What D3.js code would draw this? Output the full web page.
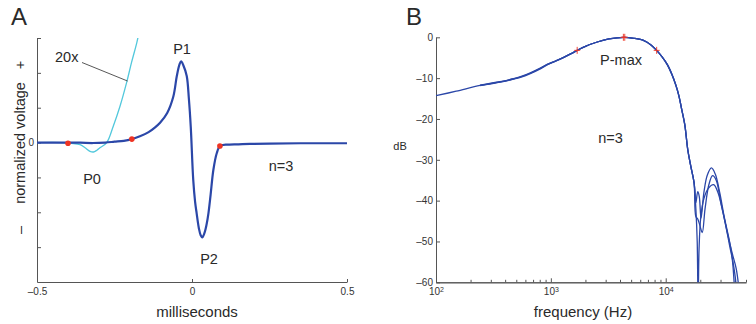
<!DOCTYPE html>
<html>
<head>
<meta charset="utf-8">
<script src="https://cdnjs.cloudflare.com/ajax/libs/d3/7.8.5/d3.min.js"></script>
<style>
  body { margin: 0; background: #fff; }
  svg text { font-family: "Helvetica Neue", Helvetica, "Liberation Sans", Arial, sans-serif; fill: #2a2a2a; }
</style>
</head>
<body>
<div id="chart"></div>
<script>
// ---- panel A: averaged click waveform (ms vs normalized voltage)
var waveTime = [-0.5, -0.45, -0.40, -0.36, -0.32, -0.28, -0.25, -0.22, -0.194, -0.168, -0.14, -0.12, -0.103, -0.08,
  -0.06, -0.049, -0.040, -0.035, -0.028, -0.017, -0.010, -0.004, 0.004, 0.010, 0.015, 0.022, 0.028, 0.033, 0.040,
  0.047, 0.053, 0.060, 0.069, 0.080, 0.090, 0.100, 0.112, 0.15, 0.187, 0.25, 0.35, 0.5];
var waveVolt = [0, 0, -0.002, -0.004, -0.013, 0, 0.025, 0.05, 0.1, 0.18, 0.30, 0.43, 0.57, 0.85,
  1.33, 1.91, 2.25, 2.33, 2.22, 1.91, 1.25, 0.45, -1.07, -1.7, -2.03, -2.45, -2.66, -2.72, -2.6,
  -2.35, -2.03, -1.5, -0.78, -0.3, -0.1, -0.07, -0.06, -0.05, -0.04, -0.03, -0.02, -0.02];
// 20x magnified trace, in plotted units
var zoomTime = [-0.5, -0.42, -0.39, -0.361, -0.345, -0.329, -0.318, -0.307, -0.297, -0.275, -0.254, -0.232, -0.211, -0.195, -0.178, -0.165];
var zoomVolt = [0, 0, -0.02, -0.06, -0.15, -0.25, -0.27, -0.22, -0.15, 0, 0.47, 1.05, 1.72, 2.30, 2.87, 3.4];
var dotTime = [-0.4, -0.194, 0.09];
var dotVolt = [-0.02, 0.1, -0.1];
var timeTicks = [-0.5, 0, 0.5];
var voltTicks = [-3, -2, -1, 0, 1, 2, 3];

// ---- panel B: spectra (Hz vs dB), n=3
var lowFreq = [242, 350, 473, 560, 662, 800, 927, 1100, 1295, 1500, 1695, 2000, 2535, 3200, 4330, 5300, 6460, 7400,
  8340, 9300, 10350, 11300, 12220, 13000, 13700, 14660, 15560, 16520, 17660];
var freq1 = [100, 150].concat(lowFreq, [18300, 19000, 19600, 20300, 21500, 23000, 25000, 27000, 29500, 32300, 35700, 37500, 38500, 39500]);
var db1 = [-14.3, -13.2, -11.8, -11.0, -10.2, -9.6, -8.8, -7.7, -6.7, -5.8, -4.9, -4.0, -3.2, -2.2, -1.15, -0.4, 0, -0.25, -0.8, -1.8,
  -3.2, -4.8, -6.7, -9.0, -11.6, -14.2, -17.3, -21.4, -27.5, -31.5, -35.6,
  -40.5, -37.8, -39, -44.3, -38, -33.8, -32, -33.5, -38, -43.9, -49.6, -53, -56, -60.5];
var freq2 = lowFreq.concat([18300, 19000, 19800, 20800, 22000, 23800, 25600, 27500, 30000, 33000, 36000, 38500, 40000, 41000]);
var db2 = [-11.7, -10.95, -10.15, -9.5, -8.7, -7.6, -6.65, -5.8, -4.9, -4.0, -3.2, -2.2, -1.15, -0.4, 0, -0.25, -0.8, -1.8,
  -3.2, -4.8, -6.8, -9.1, -11.7, -14.3, -17.4, -21.5, -27.6, -31.6, -35.7,
  -43.9, -44.5, -46, -47.8, -42, -36, -33.9, -35, -40, -45.5, -51, -55, -58, -60.5];
var freq3 = lowFreq.concat([18300, 18800, 19150, 19500, 20200, 21500, 23500, 26100, 28500, 31000, 34500, 38000, 41000, 43000]);
var db3 = [-11.85, -11.05, -10.25, -9.7, -8.9, -7.8, -6.75, -5.85, -4.9, -4.0, -3.2, -2.2, -1.15, -0.4, 0, -0.25, -0.8, -1.8,
  -3.2, -4.8, -6.7, -9.0, -11.6, -14.2, -17.3, -21.4, -27.5, -31.5, -35.6,
  -42, -50, -66, -52, -44, -39.5, -37, -36.1, -38, -42, -48, -53, -56.5, -60.5];
var markFreq = [1695, 4280, 4400, 8340];
var markDb = [-3.2, 0, 0, -3.2];
var dbTicks = [0, -10, -20, -30, -40, -50, -60];
var decadeTicks = [100, 1000, 10000];

var blue = "#2b47a8", cyan = "#52c8dc", red = "#ee3424", axisCol = "#555";

var svg = d3.select("#chart").append("svg")
  .attr("width", 756).attr("height", 324);

var defs = svg.append("defs");

function styleAxis(g) {
  g.selectAll("path, line").attr("stroke", axisCol).attr("stroke-width", 1);
  g.selectAll("text").attr("font-size", 10).style("fill", "#333")
    .attr("font-family", null);
}

// ================= panel A =================
var xA = d3.scaleLinear().domain([-0.5, 0.5]).range([37, 347]);
var yA = d3.scaleLinear().domain([-4, 3]).range([282, 38]);

defs.append("clipPath").attr("id", "clipA").append("rect")
  .attr("x", 37).attr("y", 38).attr("width", 310).attr("height", 244);

svg.append("g")
  .attr("transform", "translate(37,0)")
  .call(d3.axisLeft(yA).tickValues(voltTicks).tickSize(-4).tickSizeOuter(0).tickPadding(3)
    .tickFormat(function(d) { return d === 0 ? "0" : ""; }))
  .call(styleAxis);

svg.append("g")
  .attr("transform", "translate(0,282)")
  .call(d3.axisBottom(xA).tickValues(timeTicks).tickSize(-3).tickSizeOuter(0).tickPadding(6)
    .tickFormat(function(d) { return d === 0 ? "0" : (d < 0 ? "\u2013" + Math.abs(d) : String(d)); }))
  .call(styleAxis);

var lineA = d3.line()
  .x(function(d) { return xA(d[0]); })
  .y(function(d) { return yA(d[1]); })
  .curve(d3.curveCatmullRom.alpha(0.5));

svg.append("path")
  .datum(d3.zip(zoomTime, zoomVolt))
  .attr("clip-path", "url(#clipA)")
  .attr("d", lineA)
  .attr("fill", "none").attr("stroke", cyan).attr("stroke-width", 1.3);

svg.append("path")
  .datum(d3.zip(waveTime, waveVolt))
  .attr("d", lineA)
  .attr("fill", "none").attr("stroke", blue).attr("stroke-width", 2.2);

svg.append("g").selectAll("circle")
  .data(d3.zip(dotTime, dotVolt))
  .enter().append("circle")
    .attr("cx", function(d) { return xA(d[0]); })
    .attr("cy", function(d) { return yA(d[1]); })
    .attr("r", 2.8)
    .attr("fill", red);

// leader line for the 20x trace
svg.append("line")
  .attr("x1", 82).attr("y1", 62.5).attr("x2", 127.5).attr("y2", 81)
  .attr("stroke", "#444").attr("stroke-width", 0.9);

svg.append("text").attr("x", 55).attr("y", 62).attr("font-size", 14.5).text("20x");
svg.append("text").attr("x", 182).attr("y", 53.5).attr("text-anchor", "middle").attr("font-size", 14.5).text("P1");
svg.append("text").attr("x", 92).attr("y", 183.5).attr("text-anchor", "middle").attr("font-size", 14.5).text("P0");
svg.append("text").attr("x", 209).attr("y", 263.5).attr("text-anchor", "middle").attr("font-size", 14.5).text("P2");
svg.append("text").attr("x", 281).attr("y", 171).attr("text-anchor", "middle").attr("font-size", 14.5).text("n=3");

svg.append("text")
  .attr("transform", "translate(25,143) rotate(-90)")
  .attr("text-anchor", "middle").attr("font-size", 14.5).text("normalized voltage");
svg.append("text")
  .attr("transform", "translate(25,65) rotate(-90)")
  .attr("text-anchor", "middle").attr("font-size", 14.5).text("+");
svg.append("text")
  .attr("transform", "translate(25,230) rotate(-90)")
  .attr("text-anchor", "middle").attr("font-size", 14.5).text("\u2013");

svg.append("text").attr("x", 197).attr("y", 317).attr("text-anchor", "middle").attr("font-size", 15).text("milliseconds");
svg.append("text").attr("x", 11).attr("y", 25).attr("font-size", 24).text("A");

// ================= panel B =================
var xB = d3.scaleLog().domain([100, 50000]).range([436, 746]);
var yB = d3.scaleLinear().domain([-60, 0]).range([282.3, 37.3]);

defs.append("clipPath").attr("id", "clipB").append("rect")
  .attr("x", 436).attr("y", 30).attr("width", 312).attr("height", 252.3);

svg.append("g")
  .attr("transform", "translate(436,0)")
  .call(d3.axisLeft(yB).tickValues(dbTicks).tickSize(-4).tickSizeOuter(0).tickPadding(3)
    .tickFormat(function(d) { return d === 0 ? "0" : "\u2013" + Math.abs(d); }))
  .call(styleAxis);

// minor log ticks
var minorTicks = [];
[100, 1000, 10000].forEach(function(dec) {
  for (var m = 2; m <= 9; m++) {
    if (dec * m <= 50000) minorTicks.push(dec * m);
  }
});

svg.append("g")
  .attr("transform", "translate(0,282.3)")
  .call(d3.axisBottom(xB).tickValues(minorTicks).tickSize(-2.5).tickSizeOuter(0).tickFormat(""))
  .call(styleAxis);

var xAxisB = svg.append("g")
  .attr("transform", "translate(0,282.3)")
  .call(d3.axisBottom(xB).tickValues(decadeTicks).tickSize(-4).tickSizeOuter(0).tickPadding(6)
    .tickFormat(function(d) { return ""; }))
  .call(styleAxis);

xAxisB.selectAll(".tick text").each(function(d) {
  var t = d3.select(this);
  t.append("tspan").text("10");
  t.append("tspan").attr("dy", "-0.45em").attr("font-size", 7).text(String(Math.round(Math.log10(d))));
});

var lineB = d3.line()
  .x(function(d) { return xB(d[0]); })
  .y(function(d) { return yB(d[1]); })
  .curve(d3.curveCatmullRom.alpha(0.5));

var spectra = [d3.zip(freq1, db1), d3.zip(freq2, db2), d3.zip(freq3, db3)];

svg.append("g").attr("clip-path", "url(#clipB)")
  .selectAll("path")
  .data(spectra)
  .enter().append("path")
    .attr("d", lineB)
    .attr("fill", "none").attr("stroke", blue).attr("stroke-width", 1.3);

svg.append("g").selectAll("path")
  .data(d3.zip(markFreq, markDb))
  .enter().append("path")
    .attr("transform", function(d) { return "translate(" + xB(d[0]) + "," + yB(d[1]) + ")"; })
    .attr("d", "M-3,0H3M0,-3.5V3.5")
    .attr("stroke", red).attr("stroke-width", 0.9).attr("fill", "none");

svg.append("text").attr("x", 621).attr("y", 64.7).attr("text-anchor", "middle").attr("font-size", 14.5).text("P-max");
svg.append("text").attr("x", 610.5).attr("y", 142.7).attr("text-anchor", "middle").attr("font-size", 14.5).text("n=3");
svg.append("text").attr("x", 400).attr("y", 150).attr("text-anchor", "middle").attr("font-size", 11).text("dB");
svg.append("text").attr("x", 583).attr("y", 317).attr("text-anchor", "middle").attr("font-size", 15).text("frequency (Hz)");
svg.append("text").attr("x", 406).attr("y", 25).attr("font-size", 24).text("B");
</script>
</body>
</html>
